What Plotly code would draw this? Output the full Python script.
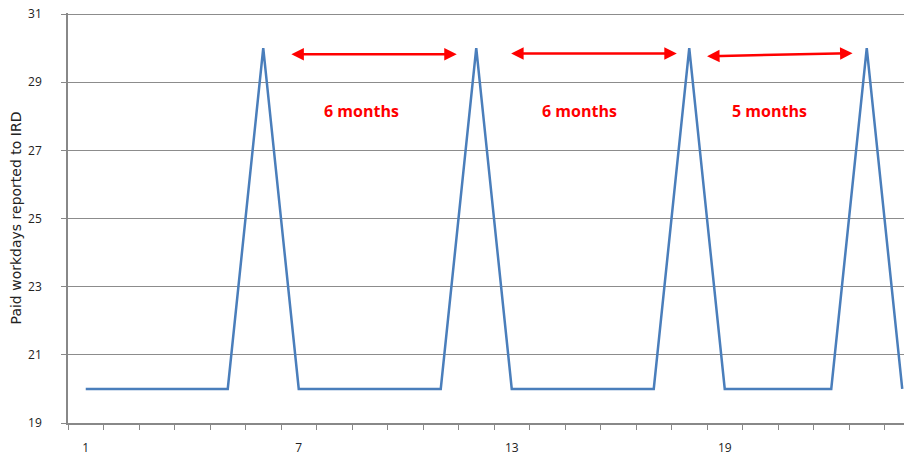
import plotly.graph_objects as go

months = list(range(1, 25))
workdays = [20, 20, 20, 20, 20, 30, 20, 20, 20, 20, 20, 30,
            20, 20, 20, 20, 20, 30, 20, 20, 20, 20, 30, 20]
x_tick_vals = [1, 7, 13, 19]
x_tick_text = ["1", "7", "13", "19"]
y_ticks = [19, 21, 23, 25, 27, 29, 31]

# arrow annotations: (x_start, y_start, x_end, y_end)
arrows = [(6.75, 29.82, 11.45, 29.82), (12.94, 29.84, 17.65, 29.84), (18.46, 29.76, 22.6, 29.85)]
labels = [(8.77, 28.15, "6 months"), (14.9, 28.15, "6 months"), (20.27, 28.15, "5 months")]

fig = go.Figure()
fig.add_trace(go.Scatter(x=months, y=workdays, mode="lines",
                         line=dict(color="#4A7EBB", width=2.5), hoverinfo="skip"))

for x0, y0, x1, y1 in arrows:
    fig.add_annotation(x=x1, y=y1, ax=x0, ay=y0, xref="x", yref="y", axref="x", ayref="y",
                       showarrow=True, arrowhead=2, startarrowhead=2, arrowside="end+start",
                       arrowwidth=2.5, arrowsize=1, startarrowsize=1, arrowcolor="#FF0000", text="")
for x, y, t in labels:
    fig.add_annotation(x=x, y=y, xref="x", yref="y", text="<b>" + t + "</b>", showarrow=False,
                       font=dict(family="Open Sans", size=16, color="#FF0000"))

axis_font = dict(family="Open Sans", size=12, color="#222222")
fig.update_layout(
    width=912, height=455,
    margin=dict(l=60, r=0, t=5, b=40),
    paper_bgcolor="white", plot_bgcolor="white",
    showlegend=False,
    xaxis=dict(range=[0.5, 24.5], tickvals=x_tick_vals, ticktext=x_tick_text, ticks="",
               showgrid=False, zeroline=False, showline=True, linecolor="#888888", linewidth=1.5,
               tickfont=axis_font, ticklabelstandoff=13, automargin=False,
               ticklabeloverflow="allow",
               minor=dict(tick0=0.5, dtick=1, ticks="outside", ticklen=5, tickcolor="#888888",
                          showgrid=False)),
    yaxis=dict(range=[19, 31.03], tickvals=y_ticks, ticks="outside", ticklen=5, tickcolor="#888888",
               showgrid=True, gridcolor="#8C8C8C", gridwidth=1, zeroline=False,
               showline=True, linecolor="#888888", linewidth=1.5, tickfont=axis_font,
               ticklabelstandoff=17, automargin=False, ticklabeloverflow="allow",
               title=dict(text="Paid workdays reported to IRD", font=dict(family="DejaVu Sans", size=14, color="#222222"),
                          standoff=3)),
)

fig.write_html("out.html")
